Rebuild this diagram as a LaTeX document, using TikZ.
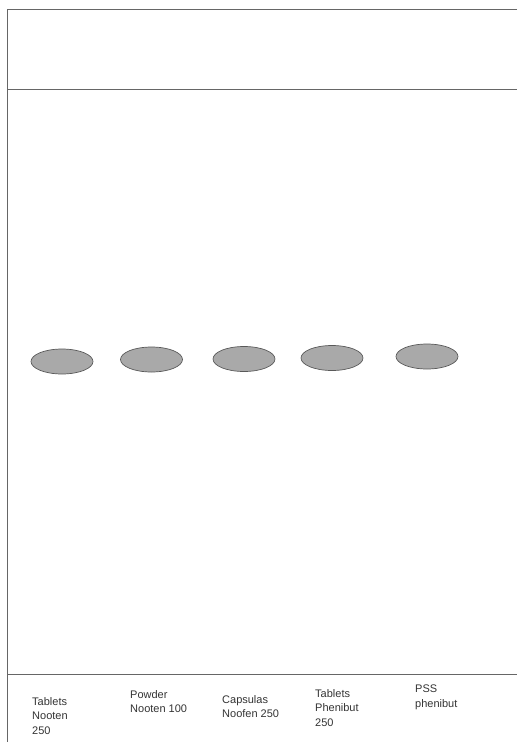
\documentclass[tikz,border=0pt]{standalone}
\usepackage{fontspec}
\setmainfont{Liberation Sans}
\usetikzlibrary{positioning,shapes.geometric}
\definecolor{spotfill}{HTML}{A9A9A9}
\definecolor{frameline}{HTML}{666666}
\definecolor{labtext}{HTML}{333333}

\begin{document}
\begin{tikzpicture}[x=1pt,y=-1pt,
  spot/.style={ellipse,draw=black!65,fill=spotfill,line width=0.7pt,minimum width=62pt,minimum height=25pt,inner sep=0pt},
  lab/.style={anchor=north west,inner sep=0pt,align=left,text=labtext,font=\fontsize{11}{14.5}\selectfont},
  frame/.style={draw=frameline,line width=1pt}]
\useasboundingbox (0,0) rectangle (517,742);
% plate outline and lines
\coordinate (tl) at (7,9);
\coordinate (tr) at (517,9);
\coordinate (bl) at (7,742);
\coordinate (sl) at (7,89);
\coordinate (sr) at (517,89);
\coordinate (ol) at (7,674);
\coordinate (or) at (517,674);
\draw[frame] (tr) -- (tl) -- (bl);
\draw[frame] (sl) -- (sr);
\draw[frame] (ol) -- (or);
% spots
\node[spot] (spot1) at (62,361.5) {};
\node[spot] (spot2) at (151.5,359.5) {};
\node[spot] (spot3) at (244,359) {};
\node[spot] (spot4) at (332,358) {};
\node[spot] (spot5) at (427,356.5) {};
% lane labels
\node[lab] (lab1) at (32,697) {Tablets\\Nooten\\250};
\node[lab] (lab2) at (130,690) {Powder\\Nooten 100};
\node[lab] (lab3) at (222,695) {Capsulas\\Noofen 250};
\node[lab] (lab4) at (315,689) {Tablets\\Phenibut\\250};
\node[lab] (lab5) at (415,685) {PSS\\phenibut};
\end{tikzpicture}
\end{document}
